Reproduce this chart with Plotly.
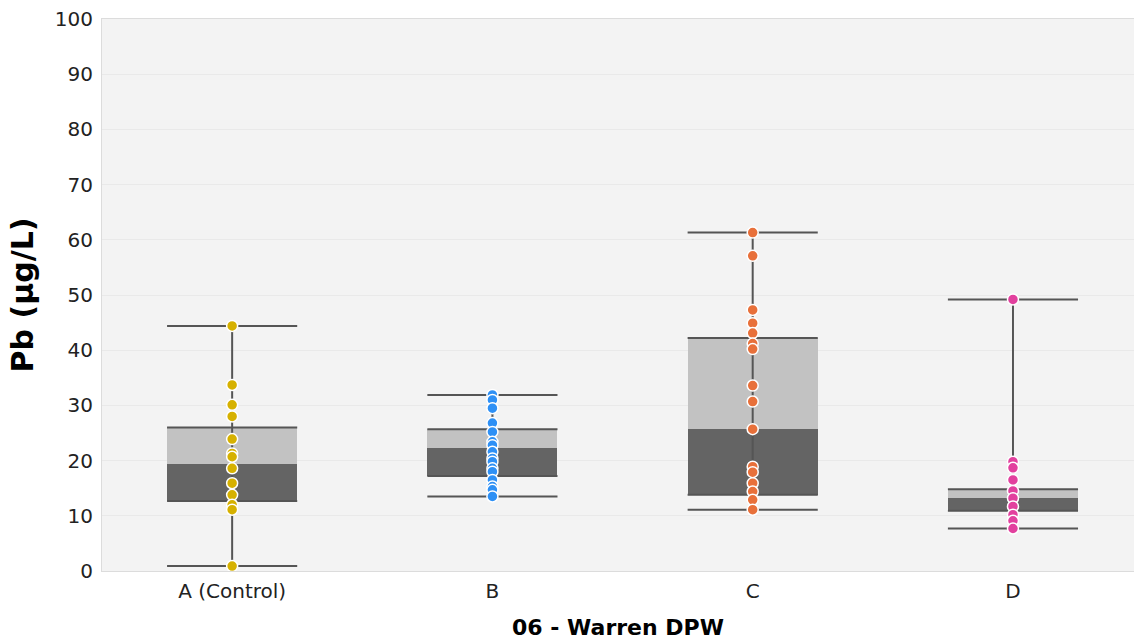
import plotly.graph_objects as go

# Sampling sites and their lead concentrations (µg/L)
sites = ["A (Control)", "B", "C", "D"]
colors = ["#D6B100", "#2E90F5", "#E8703A", "#E2409E"]

pb_a = [44.4, 33.7, 30.1, 28.0, 23.9, 21.3, 20.7, 18.6, 15.9, 13.8, 12.0, 11.1, 0.9]
pb_b = [31.9, 31.0, 29.5, 26.8, 25.2, 23.4, 22.8, 21.6, 20.4, 19.8, 18.6, 18.0, 16.5, 15.3, 14.7, 13.5]
pb_c = [61.3, 57.1, 47.3, 44.9, 43.1, 41.2, 40.2, 33.6, 30.7, 25.7, 18.9, 17.9, 15.9, 14.4, 12.9, 11.1]
pb_d = [49.2, 19.8, 18.7, 16.5, 14.5, 13.2, 11.7, 10.2, 9.1, 7.7]
samples = [pb_a, pb_b, pb_c, pb_d]

# Box summary per site: whisker low, Q1, median, Q3, whisker high
whisker_low = [0.9, 13.5, 11.1, 7.7]
q1 = [12.7, 17.2, 13.8, 10.9]
median = [19.3, 22.2, 25.7, 13.2]
q3 = [26.0, 25.7, 42.2, 14.8]
whisker_high = [44.4, 31.9, 61.3, 49.2]

half_w = 0.25
edge_color = "#555555"
pos = list(range(len(sites)))

fig = go.Figure()

# vertical whisker stems
sx, sy = [], []
for i in pos:
    sx += [i, i, None]
    sy += [whisker_low[i], whisker_high[i], None]
fig.add_trace(go.Scatter(x=sx, y=sy, mode="lines",
                         line=dict(color=edge_color, width=2),
                         hoverinfo="skip", showlegend=False))

# lower half of box (Q1 -> median) and upper half (median -> Q3)
fig.add_trace(go.Bar(x=pos, base=q1,
                     y=[m - a for m, a in zip(median, q1)],
                     width=2 * half_w, marker=dict(color="#646464", line=dict(width=0)),
                     showlegend=False))
fig.add_trace(go.Bar(x=pos, base=median,
                     y=[b - m for b, m in zip(q3, median)],
                     width=2 * half_w, marker=dict(color="#C2C2C2", line=dict(width=0)),
                     showlegend=False))

# horizontal edges: caps and box top/bottom
hx, hy = [], []
for i in pos:
    for v in (whisker_low[i], q1[i], q3[i], whisker_high[i]):
        hx += [i - half_w, i + half_w, None]
        hy += [v, v, None]
fig.add_trace(go.Scatter(x=hx, y=hy, mode="lines",
                         line=dict(color=edge_color, width=2),
                         hoverinfo="skip", showlegend=False))

# individual samples
for i, vals in enumerate(samples):
    fig.add_trace(go.Scatter(x=[i] * len(vals), y=vals, mode="markers",
                             marker=dict(size=11, color=colors[i],
                                         line=dict(color="white", width=1.5)),
                             showlegend=False))

tick_font = dict(family="DejaVu Sans, sans-serif", size=20, color="#222222")
title_family = "DejaVu Sans, sans-serif"

fig.update_layout(
    width=1134, height=641,
    margin=dict(l=102, r=0, t=19, b=70),
    paper_bgcolor="white",
    plot_bgcolor="#F3F3F3",
    barmode="overlay",
    bargap=0,
    xaxis=dict(
        range=[-0.5, 3.465],
        tickmode="array", tickvals=pos, ticktext=sites,
        tickfont=tick_font, ticks="", ticklabelstandoff=2,
        showgrid=False, zeroline=False,
        showline=True, linecolor="#DCDCDC", linewidth=1, mirror=True,
        title=dict(text="06 - Warren DPW",
                   font=dict(family=title_family, size=22, color="#000000", weight="bold"),
                   standoff=17),
    ),
    yaxis=dict(
        range=[0, 100], dtick=10,
        tickfont=tick_font, ticks="", ticklabelstandoff=4,
        showgrid=True, gridcolor="#E9E9E9", gridwidth=1,
        zeroline=False,
        showline=True, linecolor="#DCDCDC", linewidth=1,
        title=dict(text="Pb (µg/L)",
                   font=dict(family=title_family, size=30, color="#000000", weight="bold"),
                   standoff=12),
    ),
)

fig.write_html("out.html")
